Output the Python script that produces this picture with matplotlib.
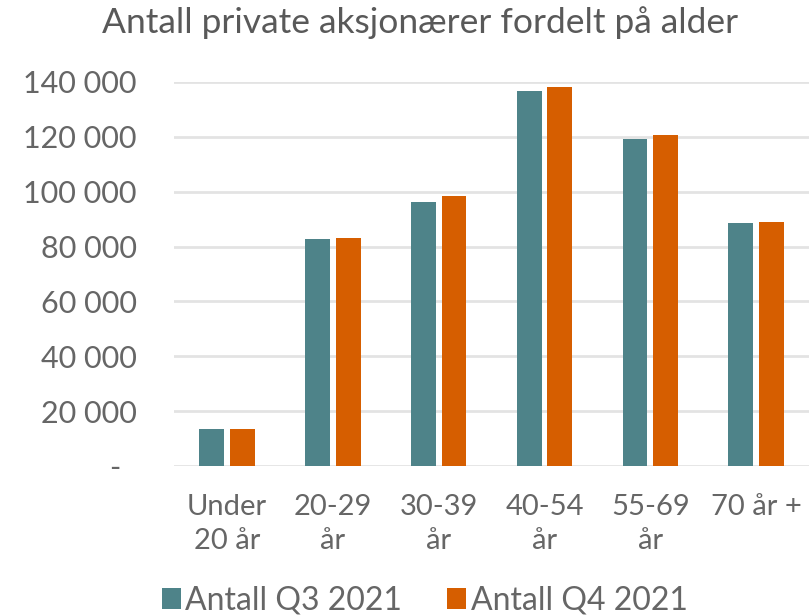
import matplotlib.pyplot as plt
import numpy as np
from matplotlib.ticker import FuncFormatter

# Antall private aksjonærer per aldersgruppe
kategorier = ['Under\n20 år', '20-29\når', '30-39\når', '40-54\når', '55-69\når', '70 år +']
q3_2021 = [13600, 82600, 96200, 136600, 119300, 88600]
q4_2021 = [13600, 83100, 98300, 138300, 120700, 88900]
serier = ['Antall Q3 2021', 'Antall Q4 2021']

teal = '#4E8389'
oransje = '#D65E00'
tekst = '#666666'

plt.rcParams['font.family'] = ['Lato', 'DejaVu Sans']

fig = plt.figure(figsize=(8.09, 6.15), dpi=100)
ax = fig.add_axes([0.2151, 0.2423, 0.785, 0.6244])

x = np.arange(len(kategorier))
bredde = 0.234
gap = 0.056
ax.bar(x - (bredde + gap) / 2, q3_2021, bredde, color=teal, label=serier[0], zorder=3)
ax.bar(x + (bredde + gap) / 2, q4_2021, bredde, color=oransje, label=serier[1], zorder=3)

ax.set_xlim(-0.5, len(kategorier) - 0.5)
ax.set_ylim(0, 140000)
ax.set_yticks(np.arange(0, 140001, 20000))


def fmt(v, pos):
    if v == 0:
        return '-\u2002'
    return f'{int(v):,}'.replace(',', ' ')


ax.yaxis.set_major_formatter(FuncFormatter(fmt))
ax.set_xticks(x)
ax.set_xticklabels(kategorier, linespacing=1.4)

ax.grid(True, axis='y', color='#e3e3e3', linewidth=2, zorder=0)
for s in ax.spines.values():
    s.set_visible(False)
ax.tick_params(axis='both', length=0, labelsize=21, colors=tekst)
ax.tick_params(axis='y', pad=27, labelsize=22)
ax.tick_params(axis='x', pad=20)

fig.text(0.519, 0.963, 'Antall private aksjonærer fordelt på alder',
         ha='center', va='center', fontsize=25.5, color='#595959')

leg = fig.legend(loc='lower center', bbox_to_anchor=(0.525, -0.048), ncol=2,
                 frameon=False, fontsize=23, handlelength=0.6, handleheight=0.6,
                 handletextpad=0.15, columnspacing=1.4)
for t in leg.get_texts():
    t.set_color(tekst)

fig.savefig('out.png', dpi=100)
